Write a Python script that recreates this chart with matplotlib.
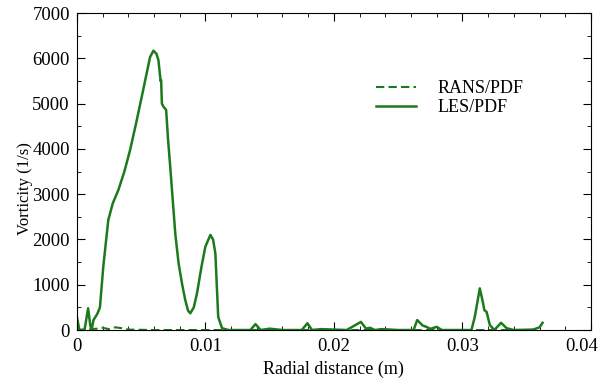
import matplotlib.pyplot as plt
import matplotlib.transforms as mtransforms
from matplotlib.ticker import MultipleLocator

# LES/PDF profile
les_x = [0.0, 0.0002, 0.0006, 0.00088, 0.00105, 0.00115, 0.0013, 0.0016, 0.0018,
         0.00206, 0.00245, 0.0028, 0.00323, 0.0037, 0.00414, 0.0046, 0.00505,
         0.0057, 0.00596, 0.0062, 0.00635, 0.00652, 0.00656, 0.00662, 0.00675,
         0.00695, 0.0071, 0.00727, 0.00766, 0.00792, 0.0082, 0.00844, 0.00865,
         0.00883, 0.0091, 0.00935, 0.0097, 0.0100, 0.01039, 0.0106, 0.01078,
         0.0110, 0.0113, 0.0118, 0.0135, 0.0139, 0.0143, 0.0150, 0.0160, 0.0175,
         0.01794, 0.0183, 0.0190, 0.0210, 0.0221, 0.0225, 0.0228, 0.0232, 0.0237,
         0.0250, 0.0262, 0.02648, 0.0269, 0.0272, 0.0275, 0.0280, 0.0284, 0.0307,
         0.03096, 0.03135, 0.0316, 0.0317, 0.03188, 0.03213, 0.03248, 0.0330,
         0.03344, 0.0340, 0.0355, 0.0360, 0.03623]
les_y = [300, 0, 0, 480, 100, 0, 220, 360, 500,
         1400, 2430, 2800, 3090, 3500, 3970, 4550, 5150,
         6030, 6170, 6100, 5960, 5500, 5520, 5000, 4930,
         4860, 4200, 3600, 2130, 1470, 1000, 660, 430,
         370, 500, 810, 1400, 1840, 2100, 2000, 1690,
         290, 40, 0, 0, 130, 0, 30, 0, 0,
         150, 0, 20, 0, 180, 30, 50, 0, 20,
         0, 0, 220, 100, 70, 25, 70, 0, 0,
         290, 920, 600, 440, 400, 110, 0, 160,
         40, 0, 10, 60, 160]

# RANS/PDF profile (stays close to zero)
rans_x = [0.0, 0.0016, 0.002, 0.0025, 0.003, 0.0035, 0.004, 0.006, 0.01, 0.02, 0.03, 0.035]
rans_y = [0, 30, 50, 20, 60, 40, 10, 0, 0, 0, 0, 0]

x_ticks = [0, 0.01, 0.02, 0.03, 0.04]
x_labels = ["0", "0.01", "0.02", "0.03", "0.04"]

green = "#1c7a1c"

plt.rcParams["font.family"] = ["Liberation Serif", "DejaVu Serif"]
fig = plt.figure(figsize=(6, 3.86), dpi=100)
ax = fig.add_axes([0.128, 0.145, 0.857, 0.821])

ax.plot(rans_x, rans_y, color=green, lw=1.5, ls=(0, (4, 2)), label="RANS/PDF")
ax.plot(les_x, les_y, color=green, lw=1.8, label="LES/PDF")

ax.set_xlim(0, 0.04)
ax.set_ylim(0, 7000)
ax.set_xticks(x_ticks)
ax.set_xticklabels(x_labels)
ax.xaxis.set_minor_locator(MultipleLocator(0.002))
ax.yaxis.set_major_locator(MultipleLocator(1000))
ax.yaxis.set_minor_locator(MultipleLocator(500))
ax.tick_params(which="both", direction="in", top=True, right=True, labelsize=13.5)
ax.tick_params(which="major", length=6)
ax.tick_params(which="minor", length=3)
ax.tick_params(axis="x", pad=6)
ax.tick_params(axis="y", pad=5)

# last x label pulled in so it stays inside the picture
last = ax.get_xticklabels()[-1]
last.set_transform(last.get_transform() + mtransforms.ScaledTranslation(-9 / 100, 0, fig.dpi_scale_trans))

ax.set_xlabel("Radial distance (m)", fontsize=13)
ax.set_ylabel("Vorticity (1/s)", fontsize=12)
ax.yaxis.set_label_coords(-0.086, 0.445)

ax.legend(loc="upper left", bbox_to_anchor=(0.55, 0.84), frameon=False,
          fontsize=13, handlelength=2.2, handletextpad=1.2, labelspacing=0.1)

fig.savefig("out.png", dpi=100)
